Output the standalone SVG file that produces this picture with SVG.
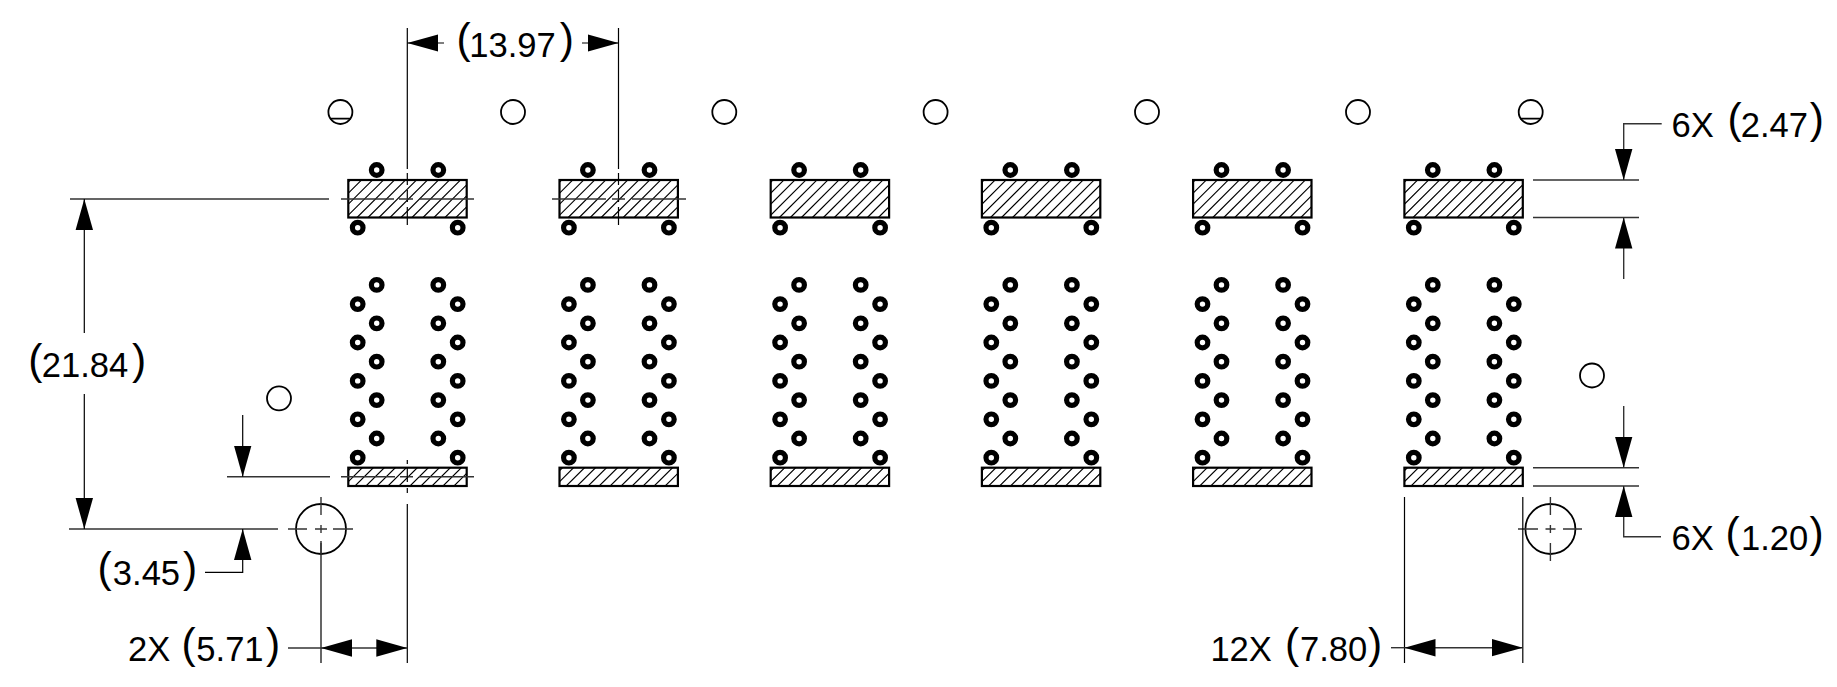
<svg xmlns="http://www.w3.org/2000/svg" width="1837" height="687" viewBox="0 0 1837 687">
<style>
text{font-family:"Liberation Sans",Arial,sans-serif;fill:#000}
.t{font-size:34.6px}
.p{font-size:42.5px}
.l{stroke:#000;stroke-width:1.2;fill:none}
.g{stroke:#333;stroke-width:1.4;fill:none}
.r{stroke:#000;stroke-width:2.2;fill:none}
.c{stroke:#000;stroke-width:1.8;fill:#fff}
.pad{stroke:#000;stroke-width:5.2;fill:#fff}
.h{stroke:#000;stroke-width:1.1;fill:none}
</style>
<defs>
<clipPath id="cu"><rect x="348.3" y="180" width="118.4" height="37.5"/></clipPath>
<clipPath id="cl"><rect x="348.3" y="467.7" width="118.4" height="18.3"/></clipPath>
<marker id="ah" markerUnits="userSpaceOnUse" markerWidth="32" markerHeight="20" viewBox="0 -10 32 20" refX="31" refY="0" orient="auto"><path d="M0-8.7L31 0L0 8.7Z" fill="#000"/></marker>
<g id="unit">
<path class="h" clip-path="url(#cu)" d="M313 217.5l38-38M324 217.5l38-38M335 217.5l38-38M346 217.5l38-38M357 217.5l38-38M368 217.5l38-38M379 217.5l38-38M390 217.5l38-38M401 217.5l38-38M412 217.5l38-38M423 217.5l38-38M434 217.5l38-38M445 217.5l38-38M456 217.5l38-38"/>
<path class="h" clip-path="url(#cl)" d="M333 486l19-19M344 486l19-19M355 486l19-19M366 486l19-19M377 486l19-19M388 486l19-19M399 486l19-19M410 486l19-19M421 486l19-19M432 486l19-19M443 486l19-19M454 486l19-19"/>
<rect class="r" x="348.3" y="180" width="118.4" height="37.5"/>
<rect class="r" x="348.3" y="467.7" width="118.4" height="18.3"/>
<g class="pad">
<circle cx="376.7" cy="170" r="5.3"/><circle cx="438.3" cy="170" r="5.3"/>
<circle cx="357.7" cy="227.7" r="5.3"/><circle cx="457.7" cy="227.7" r="5.3"/>
<circle cx="376.7" cy="284.9" r="5.3"/><circle cx="438.3" cy="284.9" r="5.3"/>
<circle cx="357.7" cy="304.1" r="5.3"/><circle cx="457.7" cy="304.1" r="5.3"/>
<circle cx="376.7" cy="323.3" r="5.3"/><circle cx="438.3" cy="323.3" r="5.3"/>
<circle cx="357.7" cy="342.5" r="5.3"/><circle cx="457.7" cy="342.5" r="5.3"/>
<circle cx="376.7" cy="361.7" r="5.3"/><circle cx="438.3" cy="361.7" r="5.3"/>
<circle cx="357.7" cy="380.9" r="5.3"/><circle cx="457.7" cy="380.9" r="5.3"/>
<circle cx="376.7" cy="400.1" r="5.3"/><circle cx="438.3" cy="400.1" r="5.3"/>
<circle cx="357.7" cy="419.3" r="5.3"/><circle cx="457.7" cy="419.3" r="5.3"/>
<circle cx="376.7" cy="438.5" r="5.3"/><circle cx="438.3" cy="438.5" r="5.3"/>
<circle cx="357.7" cy="457.7" r="5.3"/><circle cx="457.7" cy="457.7" r="5.3"/>
</g>
</g>
</defs>
<g id="units">
<use href="#unit"/>
<use href="#unit" x="211.2"/>
<use href="#unit" x="422.4"/>
<use href="#unit" x="633.6"/>
<use href="#unit" x="844.8"/>
<use href="#unit" x="1056.1"/>
</g>
<g id="holes" class="c">
<circle cx="340.4" cy="112" r="12"/><circle cx="513" cy="112" r="12"/><circle cx="724.3" cy="112" r="12"/><circle cx="935.6" cy="112" r="12"/><circle cx="1147" cy="112" r="12"/><circle cx="1358" cy="112" r="12"/><circle cx="1530.7" cy="112" r="12"/>
<circle cx="279" cy="398.3" r="12"/><circle cx="1592" cy="375.5" r="12"/>
<circle cx="321" cy="529" r="25"/><circle cx="1550.4" cy="529" r="25"/>
</g>
<g id="connectors">
<path class="l" style="stroke-width:1.8" d="M330 118.7H351M1520 118.7H1541"/>
<path class="l" d="M407.3 28V169M407.3 173V185M407.3 190V202M407.3 207V225M618.5 28V169M618.5 173V185M618.5 190V202M618.5 207V225"/>
<path class="g" d="M70 199H329M341 199H394M399 199H413M420 199H474M552 199H606M612 199H625M632 199H686"/>
<path class="g" d="M227 476.7H330M341 476.7H395M400 476.7H413M419 476.7H474"/>
<path class="l" d="M407.3 460V464M407.3 468V482M407.3 488V493M407.3 504V663M321 541V663"/>
<path class="g" d="M69 529H278M288 529H307M315 529H327M333 529H353M321 497V515M321 525V533M321 543V555"/>
<path class="g" d="M1518 529H1538M1545.5 529H1555.5M1563 529H1582M1550.4 497V515M1550.4 525V533M1550.4 543V561"/>
<path class="g" d="M1533 180H1639M1533 217.5H1639M1533 467.7H1639M1533 486H1639"/>
<path class="l" d="M1404.5 497V663M1522.8 497V663"/>
<line class="l" x1="444" y1="43" x2="407.3" y2="43" marker-end="url(#ah)"/>
<line class="l" x1="582" y1="43" x2="618.5" y2="43" marker-end="url(#ah)"/>
<line class="l" x1="84.3" y1="333" x2="84.3" y2="199" marker-end="url(#ah)"/>
<line class="l" x1="84.3" y1="394" x2="84.3" y2="529" marker-end="url(#ah)"/>
<line class="l" x1="242.7" y1="415" x2="242.7" y2="476.7" marker-end="url(#ah)"/>
<path class="l" d="M205 572.3H242.7V529" marker-end="url(#ah)"/>
<line class="g" x1="288" y1="648" x2="321" y2="648"/>
<line class="g" x1="364" y1="648" x2="321" y2="648" marker-end="url(#ah)"/>
<line class="g" x1="364" y1="648" x2="407.3" y2="648" marker-end="url(#ah)"/>
<line class="g" x1="1391" y1="647.7" x2="1404.5" y2="647.7"/>
<line class="g" x1="1464" y1="647.7" x2="1404.5" y2="647.7" marker-end="url(#ah)"/>
<line class="g" x1="1464" y1="647.7" x2="1522.8" y2="647.7" marker-end="url(#ah)"/>
<path class="g" d="M1661.7 123.7H1623.7V180" marker-end="url(#ah)"/>
<line class="g" x1="1623.7" y1="279" x2="1623.7" y2="217.5" marker-end="url(#ah)"/>
<line class="g" x1="1623.7" y1="406" x2="1623.7" y2="467.7" marker-end="url(#ah)"/>
<path class="g" d="M1661 536.7H1623.7V486" marker-end="url(#ah)"/>
</g>
<g id="labels">
<text class="p" x="456.5" y="53.4">(</text><text class="t" x="469.2" y="56.7">13.97</text><text class="p" x="559.7" y="53.4">)</text>
<text class="p" x="28.2" y="373.8">(</text><text class="t" x="41.8" y="377.3">21.84</text><text class="p" x="132" y="373.8">)</text>
<text class="p" x="97.5" y="581.5">(</text><text class="t" x="112.8" y="585">3.45</text><text class="p" x="183" y="581.5">)</text>
<text class="t" x="128" y="661">2X</text><text class="p" x="181.5" y="657.5">(</text><text class="t" x="196.3" y="661">5.71</text><text class="p" x="266" y="657.5">)</text>
<text class="t" x="1210.4" y="661">12X</text><text class="p" x="1285" y="657.5">(</text><text class="t" x="1300" y="661">7.80</text><text class="p" x="1368" y="657.5">)</text>
<text class="t" x="1671.5" y="136.7">6X</text><text class="p" x="1727.5" y="133.2">(</text><text class="t" x="1740.7" y="136.7">2.47</text><text class="p" x="1809.7" y="133.2">)</text>
<text class="t" x="1671.5" y="550">6X</text><text class="p" x="1725.5" y="546.5">(</text><text class="t" x="1741" y="550">1.20</text><text class="p" x="1809.5" y="546.5">)</text>
</g>
</svg>
